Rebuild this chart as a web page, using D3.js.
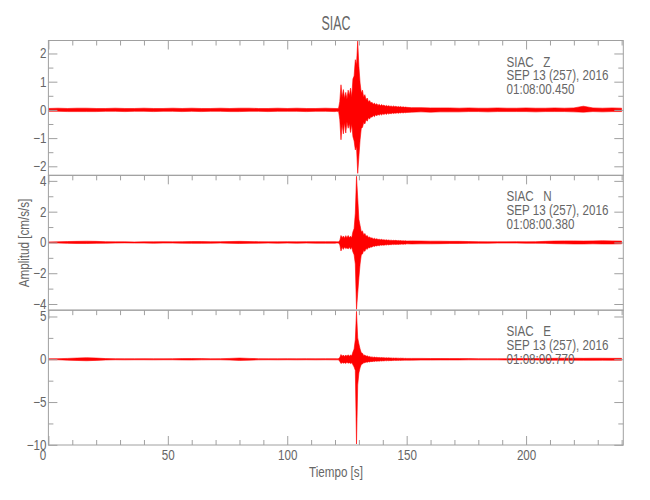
<!DOCTYPE html>
<html><head><meta charset="utf-8">
<script src="https://cdn.jsdelivr.net/npm/d3@7"></script>
<style>
body{margin:0;background:#fff}
svg{display:block}
text{font-family:"Liberation Sans",Arial,sans-serif;fill:#666;white-space:pre}
</style></head><body><svg id="c" width="650" height="500"></svg>
<script>
// ---------- DATA ----------
const stationName = "SIAC";
const channels = ["Z", "N", "E"];
const dateLabel = "SEP 13 (257), 2016";
const startTimes = ["01:08:00.450", "01:08:00.380", "01:08:00.770"];
const xLabel = "Tiempo [s]";
const yLabel = "Amplitud [cm/s/s]";
const xRange = [0, 240.7];
const xMajorTicks = [0, 50, 100, 150, 200];
const xMinorTicks = [10,20,30,40,60,70,80,90,110,120,130,140,160,170,180,190,210,220,230,240];

// envelope sample times (s): quiet part, event window, quiet part
const times = [
  0,4,8,12,16,20,24,28,32,36,40,44,48,52,56,60,64,68,72,76,80,84,88,92,96,100,104,108,112,116,120,
  120.5,121,121.5,122,122.5,123,123.5,124,124.5,125,
  125.5,126,126.5,127,127.5,128,128.5,129,129.5,130,
  130.5,131,131.5,132,132.5,133,133.5,134,134.5,135,
  135.5,136,136.5,137,137.5,138,138.5,139,139.5,140,
  140.5,141,141.5,142,142.5,143,143.5,144,144.5,145,
  145.5,146,146.5,147,147.5,148,148.5,149,149.5,150,
  152,156,160,164,168,172,176,180,184,188,192,196,200,204,208,212,216,220,224,228,232,236,240
];

// Z channel envelope (upper / lower), cm/s/s
const zHi = [
  .05,.06,.05,.06,.06,.05,.05,.06,.05,.05,.06,.05,.05,.06,.05,.06,.05,.05,.06,.05,.06,.06,.05,.05,.06,.05,.06,.05,.05,.06,.05,
  .05,.05,.06,.30,.89,.45,.72,.40,.62,.38,
  .70,.50,.77,.45,1.10,1.20,1.78,1.60,2.44,1.54,
  .95,.60,.70,.45,.54,.36,.42,.28,.33,.24,
  .27,.20,.24,.18,.22,.16,.20,.15,.19,.15,
  .17,.13,.16,.13,.15,.12,.14,.11,.14,.11,
  .13,.10,.12,.10,.12,.09,.11,.09,.10,.09,
  .08,.08,.07,.07,.07,.06,.07,.06,.06,.07,.06,.06,.07,.06,.06,.07,.06,.07,.13,.07,.06,.07,.06
];
const zLo = [
  -.05,-.05,-.06,-.06,-.06,-.06,-.05,-.05,-.06,-.05,-.05,-.06,-.05,-.05,-.06,-.05,-.06,-.05,-.05,-.06,-.06,-.05,-.05,-.06,-.05,-.05,-.05,-.06,-.05,-.05,-.06,
  -.05,-.06,-.05,-.35,-1.06,-.50,-.85,-.45,-.82,-.42,
  -.65,-.48,-.80,-.50,-.95,-1.10,-1.42,-1.30,-2.25,-1.65,
  -1.06,-.65,-.62,-.45,-.50,-.35,-.40,-.28,-.32,-.24,
  -.26,-.20,-.24,-.17,-.21,-.16,-.19,-.15,-.18,-.14,
  -.16,-.13,-.16,-.12,-.15,-.12,-.14,-.11,-.13,-.11,
  -.12,-.10,-.12,-.10,-.11,-.09,-.11,-.09,-.10,-.09,
  -.08,-.07,-.08,-.07,-.07,-.07,-.06,-.06,-.07,-.06,-.06,-.06,-.06,-.07,-.06,-.06,-.06,-.07,-.08,-.06,-.07,-.06,-.06
];
// N channel envelope
const nHi = [
  .03,.04,.06,.07,.08,.07,.05,.04,.04,.03,.04,.04,.05,.04,.05,.06,.06,.05,.05,.06,.07,.06,.05,.04,.04,.05,.04,.05,.05,.05,.05,
  .04,.04,.05,.12,.45,.30,.42,.28,.44,.30,
  .45,.32,.40,.30,.70,.90,1.90,4.30,2.90,1.50,
  1.10,.70,.75,.50,.58,.40,.45,.32,.36,.28,
  .30,.23,.27,.21,.24,.19,.21,.17,.20,.16,
  .18,.15,.17,.14,.16,.13,.15,.12,.14,.12,
  .14,.11,.13,.11,.12,.10,.11,.10,.11,.09,
  .10,.09,.08,.08,.07,.07,.06,.05,.04,.04,.04,.05,.04,.05,.07,.09,.10,.10,.09,.10,.11,.10,.09
];
const nLo = [
  -.03,-.04,-.06,-.07,-.07,-.06,-.05,-.04,-.03,-.04,-.04,-.05,-.04,-.04,-.05,-.06,-.06,-.05,-.04,-.06,-.07,-.06,-.05,-.04,-.05,-.04,-.05,-.04,-.05,-.05,-.05,
  -.04,-.04,-.04,-.15,-.55,-.32,-.45,-.30,-.40,-.35,
  -.42,-.30,-.44,-.32,-.62,-.80,-1.40,-4.35,-3.30,-2.30,
  -1.40,-.80,-.75,-.52,-.58,-.40,-.45,-.33,-.36,-.28,
  -.31,-.23,-.26,-.21,-.23,-.19,-.22,-.17,-.19,-.16,
  -.18,-.15,-.17,-.14,-.16,-.13,-.15,-.12,-.14,-.12,
  -.13,-.11,-.13,-.11,-.12,-.10,-.12,-.10,-.11,-.09,
  -.10,-.09,-.09,-.08,-.07,-.07,-.06,-.05,-.05,-.04,-.04,-.04,-.05,-.05,-.06,-.08,-.09,-.10,-.10,-.09,-.10,-.10,-.09
];
// E channel envelope
const eHi = [
  .06,.07,.10,.14,.18,.14,.08,.07,.06,.06,.07,.06,.06,.07,.08,.09,.08,.06,.07,.10,.14,.10,.07,.06,.06,.07,.06,.07,.06,.07,.07,
  .07,.06,.08,.20,.55,.35,.50,.32,.50,.35,
  .52,.35,.50,.40,.85,1.20,2.30,5.60,2.50,1.80,
  1.20,.75,.70,.45,.50,.36,.40,.30,.33,.25,
  .28,.22,.26,.20,.24,.19,.22,.18,.20,.17,
  .19,.15,.18,.15,.17,.14,.16,.13,.15,.12,
  .14,.12,.13,.11,.13,.11,.12,.10,.11,.10,
  .10,.10,.09,.09,.08,.08,.08,.07,.07,.07,.07,.08,.08,.09,.10,.11,.12,.12,.11,.12,.12,.11,.11
];
const eLo = [
  -.06,-.06,-.10,-.14,-.17,-.13,-.08,-.06,-.07,-.06,-.06,-.07,-.06,-.06,-.08,-.09,-.07,-.06,-.06,-.09,-.13,-.10,-.07,-.06,-.07,-.06,-.07,-.06,-.07,-.06,-.07,
  -.07,-.07,-.07,-.25,-.50,-.38,-.45,-.40,-.48,-.36,
  -.45,-.40,-.50,-.42,-.65,-.90,-1.30,-9.90,-3.00,-1.60,
  -1.00,-.60,-.55,-.40,-.40,-.32,-.36,-.28,-.32,-.25,
  -.28,-.22,-.26,-.20,-.24,-.19,-.22,-.18,-.21,-.17,
  -.19,-.15,-.18,-.15,-.17,-.14,-.16,-.13,-.15,-.12,
  -.14,-.12,-.13,-.11,-.13,-.11,-.12,-.10,-.11,-.10,
  -.10,-.09,-.09,-.08,-.08,-.08,-.07,-.07,-.07,-.07,-.08,-.08,-.08,-.09,-.10,-.11,-.12,-.11,-.12,-.12,-.11,-.12,-.11
];

const yDomains = [[-2.32, 2.46], [-4.40, 4.36], [-10.02, 5.74]];
const yMajorTicks = [[-2,-1,0,1,2], [-4,-2,0,2,4], [-10,-5,0,5]];
const yMinorTicks = [[-1.5,-0.5,0.5,1.5], [-3,-1,1,3], [-7.5,-2.5,2.5]];
const highs = [zHi, nHi, eHi];
const lows = [zLo, nLo, eLo];

(function draw() {
  // ---------- LAYOUT ----------
  const pLeft = 48.4, pRight = 623.3, pTop = 40.5, pBottom = 445;
  const panelH = (pBottom - pTop) / 3;
  const axisColor = "#a0a0a0";
  const narrow = 0.83;
  const svg = d3.select("#c");

  const x = d3.scaleLinear().domain(xRange).range([pLeft, pRight]);

  channels.forEach((ch, i) => {
    const y0 = pTop + i * panelH, y1 = y0 + panelH;
    const y = d3.scaleLinear().domain(yDomains[i]).range([y1, y0]);
    const g = svg.append("g");

    const clipId = "clip" + i;
    svg.append("clipPath").attr("id", clipId)
      .append("rect").attr("x", pLeft).attr("y", y0 - 1)
      .attr("width", pRight - pLeft).attr("height", panelH + 2);

    const data = times.map((t, k) => ({t, hi: highs[i][k], lo: lows[i][k]}));
    const area = d3.area()
      .x(d => x(d.t)).y0(d => y(d.lo)).y1(d => y(d.hi));
    g.append("path").datum(data)
      .attr("clip-path", `url(#${clipId})`)
      .attr("d", area)
      .attr("fill", "#ff0000")
      .attr("stroke", "#ff0000")
      .attr("stroke-width", 0.6);

    // y axes (left with labels, right without), ticks pointing inward
    const yl = g.append("g").attr("transform", `translate(${pLeft},0)`)
      .call(d3.axisLeft(y).tickValues(yMajorTicks[i]).tickSize(-9).tickPadding(2)
        .tickFormat(d => (d < 0 ? "\u2212" + Math.abs(d) : "" + d)));
    g.append("g").attr("transform", `translate(${pLeft},0)`)
      .call(d3.axisLeft(y).tickValues(yMinorTicks[i]).tickSize(-5).tickFormat(""));
    g.append("g").attr("transform", `translate(${pRight},0)`)
      .call(d3.axisRight(y).tickValues(yMajorTicks[i]).tickSize(-9).tickFormat(""));
    g.append("g").attr("transform", `translate(${pRight},0)`)
      .call(d3.axisRight(y).tickValues(yMinorTicks[i]).tickSize(-5).tickFormat(""));
    yl.selectAll("text").style("font-size", "14px");

    // top ticks of each panel
    g.append("g").attr("transform", `translate(0,${y0})`)
      .call(d3.axisTop(x).tickValues(xMajorTicks).tickSize(-9).tickFormat(""));
    g.append("g").attr("transform", `translate(0,${y0})`)
      .call(d3.axisTop(x).tickValues(xMinorTicks).tickSize(-5).tickFormat(""));

    // frame
    g.append("rect").attr("x", pLeft).attr("y", y0)
      .attr("width", pRight - pLeft).attr("height", panelH)
      .attr("fill", "none").attr("stroke", axisColor).attr("stroke-width", 1);

    g.selectAll(".domain").remove();
    g.selectAll(".tick line").attr("stroke", axisColor);

    // annotations
    const ann = g.append("g").style("font-size", "14px");
    ann.append("text").attr("x", 506.5).attr("y", y0 + 26).text(stationName + "   " + ch);
    ann.append("text").attr("x", 506.5).attr("y", y0 + 39.7).text(dateLabel);
    ann.append("text").attr("x", 506.5).attr("y", y0 + 53.5).text(startTimes[i]);
  });

  // bottom x axis
  const xb = svg.append("g").attr("transform", `translate(0,${pBottom})`)
    .call(d3.axisBottom(x).tickValues(xMajorTicks).tickSize(-9).tickPadding(5));
  svg.append("g").attr("transform", `translate(0,${pBottom})`)
    .call(d3.axisBottom(x).tickValues(xMinorTicks).tickSize(-5).tickFormat(""));
  svg.selectAll(".domain").remove();
  svg.selectAll(".tick line").attr("stroke", axisColor);
  svg.selectAll(".tick text").attr("fill", "#666").attr("font-family", null);
  xb.selectAll("text").style("font-size", "14px")
    .attr("dx", d => d === 0 ? -6 : 0);

  // axis titles
  svg.append("text").attr("x", 336).attr("y", 477)
    .attr("text-anchor", "middle").style("font-size", "14px").text(xLabel);
  svg.append("text").attr("transform", "translate(28.5,243) rotate(-90)")
    .attr("text-anchor", "middle").style("font-size", "14px").text(yLabel);

  // narrow the (Hershey-like) lettering
  svg.selectAll("text").each(function () {
    const L = this.getComputedTextLength();
    if (L > 0) d3.select(this).attr("textLength", L * narrow).attr("lengthAdjust", "spacingAndGlyphs");
  });

  // title
  svg.append("text")
    .attr("x", 336).attr("y", 30)
    .attr("text-anchor", "middle")
    .style("font-size", "21px")
    .attr("textLength", 29).attr("lengthAdjust", "spacingAndGlyphs")
    .text(stationName);
})();
</script></body></html>
